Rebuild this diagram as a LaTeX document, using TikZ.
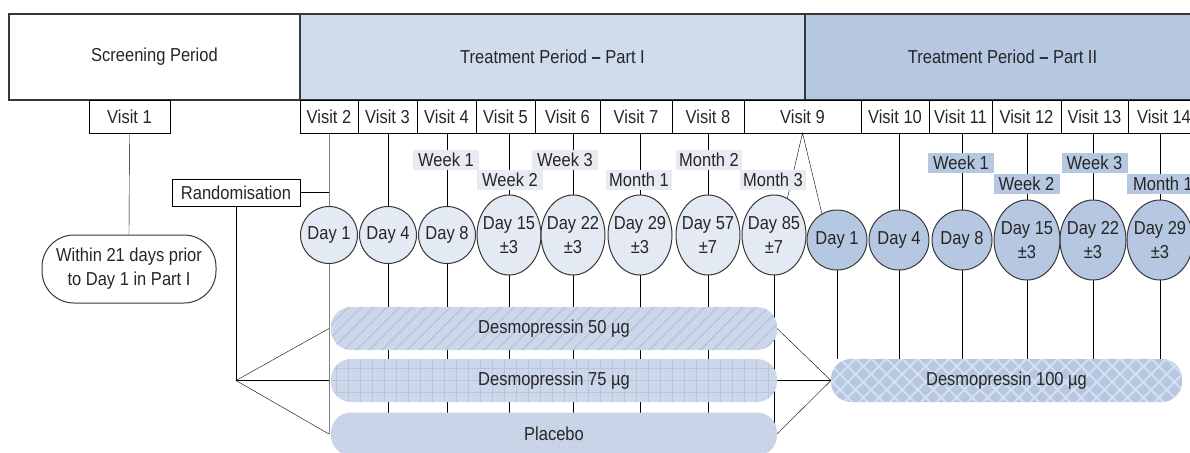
\documentclass[tikz,border=0pt]{standalone}
\usepackage{fontspec}
\setmainfont[FakeStretch=0.88]{Liberation Sans}
\usepackage{tikz}
\usetikzlibrary{positioning,shapes.geometric,patterns,patterns.meta,backgrounds}
\definecolor{partone}{RGB}{207,220,238}
\definecolor{parttwo}{RGB}{182,199,225}
\definecolor{dayone}{RGB}{228,234,244}
\definecolor{tagone}{RGB}{232,236,242}
\definecolor{barfill}{RGB}{204,215,234}
\definecolor{barline}{RGB}{184,197,222}
\definecolor{edge}{RGB}{55,55,55}

\begin{document}
\begin{tikzpicture}[
    x=1pt, y=-1pt,
    every node/.style={font=\fontsize{18.75}{24}\selectfont, text=black!85,
                       inner sep=0pt, outer sep=0pt},
    period/.style={rectangle, draw=edge, line width=1.4pt, minimum height=86pt},
    visit/.style={rectangle, draw, line width=1pt, minimum height=33pt},
    tag/.style={rectangle, minimum width=66pt, minimum height=20pt},
    dayc/.style={circle, draw=edge, line width=1pt, minimum size=57pt},
    dayl/.style={ellipse, draw=edge, line width=1pt, inner xsep=-8pt,
                 minimum width=64pt, minimum height=80pt, align=center},
    bar/.style={rectangle, rounded corners=20pt, minimum height=43pt},
    link/.style={line width=1pt}
]
\useasboundingbox (0,0) rectangle (1190,452);

% Periods
\node[period, minimum width=291pt] (scr) at (154.5,57) {Screening Period};
\node[period, fill=partone, minimum width=505pt, right=0pt of scr] (p1) {Treatment Period \textbf{--} Part I};
\node[period, fill=parttwo, minimum width=395pt, right=0pt of p1] (p2) {Treatment Period \textbf{--} Part II};

% Visits
\node[visit, minimum width=81pt] (v1) at (129.5,116.5) {Visit 1};
\node[visit, minimum width=58pt] (v2) at (329,116.5) {Visit 2};
\node[visit, minimum width=59pt, right=0pt of v2] (v3) {Visit 3};
\node[visit, minimum width=59pt, right=0pt of v3] (v4) {Visit 4};
\node[visit, minimum width=59pt, right=0pt of v4] (v5) {Visit 5};
\node[visit, minimum width=65pt, right=0pt of v5] (v6) {Visit 6};
\node[visit, minimum width=72pt, right=0pt of v6] (v7) {Visit 7};
\node[visit, minimum width=72pt, right=0pt of v7] (v8) {Visit 8};
\node[visit, minimum width=117pt, right=0pt of v8] (v9) {Visit 9};
\node[visit, minimum width=68pt, right=0pt of v9] (v10) {Visit 10};
\node[visit, minimum width=63pt, right=0pt of v10] (v11) {Visit 11};
\node[visit, minimum width=69pt, right=0pt of v11] (v12) {Visit 12};
\node[visit, minimum width=67pt, right=0pt of v12] (v13) {Visit 13};
\node[visit, minimum width=72pt, right=0pt of v13] (v14) {Visit 14};

\node[rectangle, draw=edge, line width=1pt, rounded corners=32pt, minimum width=174pt,
      minimum height=68pt, align=center] (within) at (129,269) {Within 21 days prior\\to Day 1 in Part I};
\node[rectangle, draw, line width=1pt, minimum width=128pt, minimum height=27pt] (rand) at (236,192.5) {Randomisation};

% Weeks and months
\node[tag, fill=tagone] (w1a) at (446,160) {Week 1};
\node[tag, fill=tagone] (w2a) at (510,180) {Week 2};
\node[tag, fill=tagone] (w3a) at (565,160) {Week 3};
\node[tag, fill=tagone] (m1a) at (639,180) {Month 1};
\node[tag, fill=tagone] (m2a) at (709,160) {Month 2};
\node[tag, fill=tagone] (m3a) at (773,180) {Month 3};
\node[tag, fill=parttwo] (w1b) at (961,163) {Week 1};
\node[tag, fill=parttwo] (w2b) at (1026.5,184) {Week 2};
\node[tag, fill=parttwo] (w3b) at (1094.5,163) {Week 3};
\node[tag, fill=parttwo, minimum width=72pt] (m1b) at (1163,184) {Month 1};

% Days, Part I
\node[dayc, fill=dayone] (d1) at (329,235) {Day 1};
\node[dayc, fill=dayone] (d4) at (388,235) {Day 4};
\node[dayc, fill=dayone] (d8) at (447,235) {Day 8};
\node[dayl, fill=dayone] (d15) at (509,235) {Day 15\\±3};
\node[dayl, fill=dayone] (d22) at (573,235) {Day 22\\±3};
\node[dayl, fill=dayone] (d29) at (640,235) {Day 29\\±3};
\node[dayl, fill=dayone] (d57) at (708,235) {Day 57\\±7};
\node[dayl, fill=dayone] (d85) at (774,235) {Day 85\\±7};

% Days, Part II
\node[dayc, fill=parttwo, minimum size=60pt] (e1) at (837,240) {Day 1};
\node[dayc, fill=parttwo, minimum size=60pt] (e4) at (899,240) {Day 4};
\node[dayc, fill=parttwo, minimum size=60pt] (e8) at (962,240) {Day 8};
\node[dayl, fill=parttwo, minimum width=66pt] (e15) at (1027,240) {Day 15\\±3};
\node[dayl, fill=parttwo, minimum width=66pt] (e22) at (1093,240) {Day 22\\±3};
\node[dayl, fill=parttwo, minimum width=66pt] (e29) at (1160,240) {Day 29\\±3};

% Treatment arms
\node[bar, minimum width=446pt, preaction={fill=barfill}, pattern color=barline,
      pattern={Lines[angle=45,distance=9pt,line width=1.5pt]}] (b50) at (554,328.5) {Desmopressin 50 µg};
\node[bar, minimum width=446pt, preaction={fill=barfill}, pattern color=barline,
      pattern={Hatch[angle=0,distance=12pt,line width=0.7pt]}] (b75) at (554,380.5) {Desmopressin 75 µg};
\node[bar, minimum width=446pt, preaction={fill=barfill}, pattern color=barline,
      pattern=crosshatch dots] (pl) at (554,434) {Placebo};
\node[bar, minimum width=351pt, preaction={fill=parttwo}, pattern color=dayone!70!parttwo,
      pattern={Hatch[angle=45,distance=11pt,line width=2pt]}] (b100) at (1006.5,380.5) {Desmopressin 100 µg};

\coordinate (fan) at (rand.south |- b75.west);

\begin{scope}[on background layer, link]
\draw (v1.south) -- (within.north);
\draw[gray] (v2.south) -- (d1.north);
\draw (v3.south -| d4) -- (d4.north);
\draw (v4.south -| d8) -- (d8.north);
\draw (v5.south -| d15) -- (d15.north);
\draw (v6.south -| d22) -- (d22.north);
\draw (v7.south -| d29) -- (d29.north);
\draw (v8.south -| d57) -- (d57.north);
\draw (d85.70) -- (v9.south) -- (e1.120);
\draw (v10.south -| e4) -- (e4.north);
\draw (v11.south -| e8) -- (e8.north);
\draw (v12.south -| e15) -- (e15.north);
\draw (v13.south -| e22) -- (e22.north);
\draw (v14.south -| e29) -- (e29.north);

% Randomisation into the arms
\draw (rand.east) -- (rand.east -| d1);
\draw (rand.south) -- (fan);
\draw (fan) -- (d1 |- b50.west);
\draw (fan) -- (d1 |- b75.west);
\draw (fan) -- (d1 |- pl.west);
\draw[gray] (d1.south) -- (d1 |- pl.west);
\draw (d4.south) -- (d4 |- pl.north);
\draw (d8.south) -- (d8 |- pl.north);
\draw (d15.south) -- (d15 |- pl.north);
\draw (d22.south) -- (d22 |- pl.north);
\draw (d29.south) -- (d29 |- pl.north);
\draw (d57.south) -- (d57 |- pl.north);
\draw (d85.south) -- (d85 |- pl.west);

% Arms into Part II
\draw (b50.east) -- (b100.west);
\draw (b75.east) -- (b100.west);
\draw (pl.east) -- (b100.west);
\draw (e1.south) -- (e1 |- b100.north);
\draw (e4.south) -- (e4 |- b100.north);
\draw (e8.south) -- (e8 |- b100.north);
\draw (e15.south) -- (e15 |- b100.north);
\draw (e22.south) -- (e22 |- b100.north);
\draw (e29.south) -- (e29 |- b100.north);
\end{scope}

\end{tikzpicture}
\end{document}
